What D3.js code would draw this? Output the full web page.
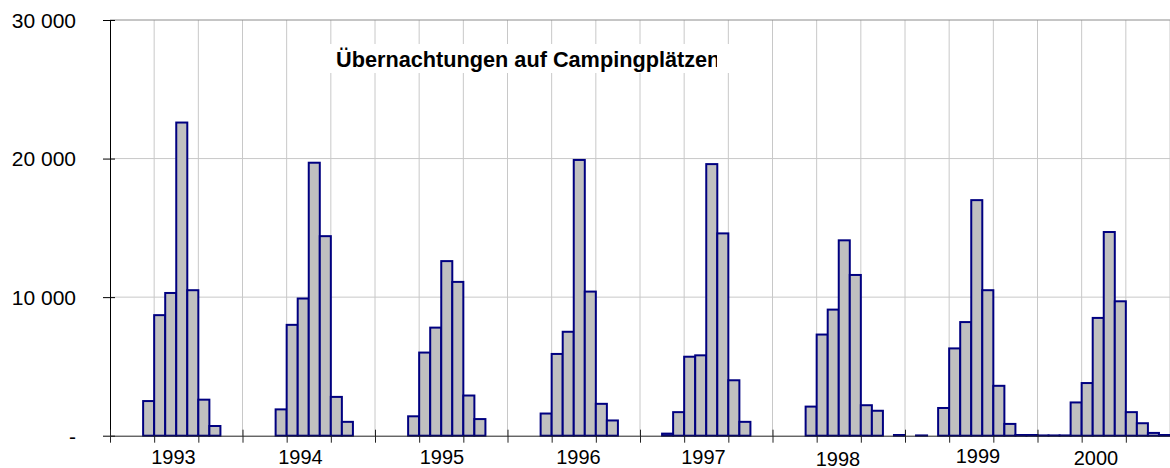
<!DOCTYPE html>
<html>
<head>
<meta charset="utf-8">
<script src="https://cdn.jsdelivr.net/npm/d3@7"></script>
<style>
  html, body { margin: 0; padding: 0; background: #fff; }
  svg { display: block; }
  text { font-family: "Liberation Sans", Arial, sans-serif; }
</style>
</head>
<body>
<svg id="chart" width="1170" height="468"></svg>
<script>
// ---- data ----
const years = ["1993", "1994", "1995", "1996", "1997", "1998", "1999", "2000"];
const months = ["Jan", "Feb", "Mär", "Apr", "Mai", "Jun", "Jul", "Aug", "Sep", "Okt", "Nov", "Dez"];
const v1993 = [0, 0, 0, 2500, 8700, 10300, 22600, 10500, 2600, 700, 0, 0];
const v1994 = [0, 0, 0, 1900, 8000, 9900, 19700, 14400, 2800, 1000, 0, 0];
const v1995 = [0, 0, 0, 1400, 6000, 7800, 12600, 11100, 2900, 1200, 0, 0];
const v1996 = [0, 0, 0, 1600, 5900, 7500, 19900, 10400, 2300, 1100, 0, 0];
const v1997 = [0, 0, 150, 1700, 5700, 5800, 19600, 14600, 4000, 1000, 0, 0];
const v1998 = [0, 0, 0, 2100, 7300, 9100, 14100, 11600, 2200, 1800, 0, 50];
const v1999 = [0, 20, 0, 2000, 6300, 8200, 17000, 10500, 3600, 850, 50, 50];
const v2000 = [20, 20, 20, 2400, 3800, 8500, 14700, 9700, 1700, 900, 200, 50];
const yTicks = [0, 10000, 20000, 30000];
const yTickLabels = ["-", "10 000", "20 000", "30 000"];
const title = "Übernachtungen auf Campingplätzen";

// ---- layout (not data) ----
const yearLabelShift = [[-2.75, 464], [-8.25, 464], [0.75, 464], [4.75, 464],
                        [-2.75, 464], [-0.75, 465.5], [6.75, 463], [-7.75, 465]];

const series = [v1993, v1994, v1995, v1996, v1997, v1998, v1999, v2000];
const rows = [];
years.forEach((yr, yi) => months.forEach((m, mi) => {
  rows.push({ key: yr + "-" + m, value: series[yi][mi] });
}));

const L = 110, R = 1170, T = 20, B = 435.7;
const svg = d3.select("#chart");

const x = d3.scaleBand().domain(rows.map(d => d.key)).range([L, R]).padding(0);
const xl = d3.scaleLinear().domain([0, rows.length]).range([L, R]);
const y = d3.scaleLinear().domain([0, 30000]).range([B, T]);

const gridIdx = d3.range(4, rows.length + 1, 4);

// vertical gridlines
svg.append("g").selectAll("line").data(gridIdx).join("line")
  .attr("x1", d => xl(d)).attr("x2", d => xl(d))
  .attr("y1", T).attr("y2", B)
  .attr("stroke", "#c8c8c8").attr("stroke-width", 1);

// horizontal gridlines
svg.append("g").selectAll("line").data(yTicks.filter(d => d > 0)).join("line")
  .attr("x1", L).attr("x2", R)
  .attr("y1", d => y(d)).attr("y2", d => y(d))
  .attr("stroke", d => d === 30000 ? "#8c8c8c" : "#c8c8c8").attr("stroke-width", 1);

// title with white box
svg.append("rect").attr("x", 312).attr("y", 44).attr("width", 430).attr("height", 29).attr("fill", "#fff");
svg.append("clipPath").attr("id", "tclip").append("rect")
  .attr("x", 300).attr("y", 40).attr("width", 417).attr("height", 40);
svg.append("text").attr("clip-path", "url(#tclip)")
  .attr("x", 336).attr("y", 67)
  .attr("font-size", 21.7).attr("font-weight", "bold").attr("fill", "#000")
  .text(title);

// bars
svg.append("g").selectAll("rect").data(rows.filter(d => d.value > 0)).join("rect")
  .attr("x", d => x(d.key)).attr("width", x.bandwidth())
  .attr("y", d => y(d.value)).attr("height", d => B - y(d.value))
  .attr("fill", "#c0c0c0").attr("stroke", "#000080").attr("stroke-width", 2);

// y axis
const yAxis = svg.append("g").attr("transform", `translate(${L},0)`)
  .call(d3.axisLeft(y).tickValues(yTicks).tickFormat((d, i) => yTickLabels[i])
    .tickSizeInner(7).tickSizeOuter(0).tickPadding(27));
yAxis.select(".domain").attr("stroke", "#000");
yAxis.selectAll(".tick line").attr("x1", 5).attr("stroke", "#000");
yAxis.selectAll(".tick text").attr("font-size", 21).attr("fill", "#000")
  .attr("font-family", "'Liberation Sans', Arial, sans-serif").attr("dy", "0.35em");

// x axis
const xAxis = svg.append("g").attr("transform", `translate(0,${B})`)
  .call(d3.axisBottom(xl).tickValues(d3.range(0, rows.length + 1, 4)).tickFormat("")
    .tickSizeInner(7).tickSizeOuter(0));
xAxis.select(".domain").attr("stroke", "#222");
xAxis.selectAll(".tick line").attr("stroke", "#222")
  .attr("y1", d => d % 12 === 0 ? -6 : 0);

// year labels
svg.append("g").selectAll("text").data(years).join("text")
  .attr("x", (d, i) => xl(i * 12 + 6) + yearLabelShift[i][0])
  .attr("y", (d, i) => yearLabelShift[i][1])
  .attr("text-anchor", "middle").attr("font-size", 20).attr("fill", "#000")
  .text(d => d);
</script>
</body>
</html>
